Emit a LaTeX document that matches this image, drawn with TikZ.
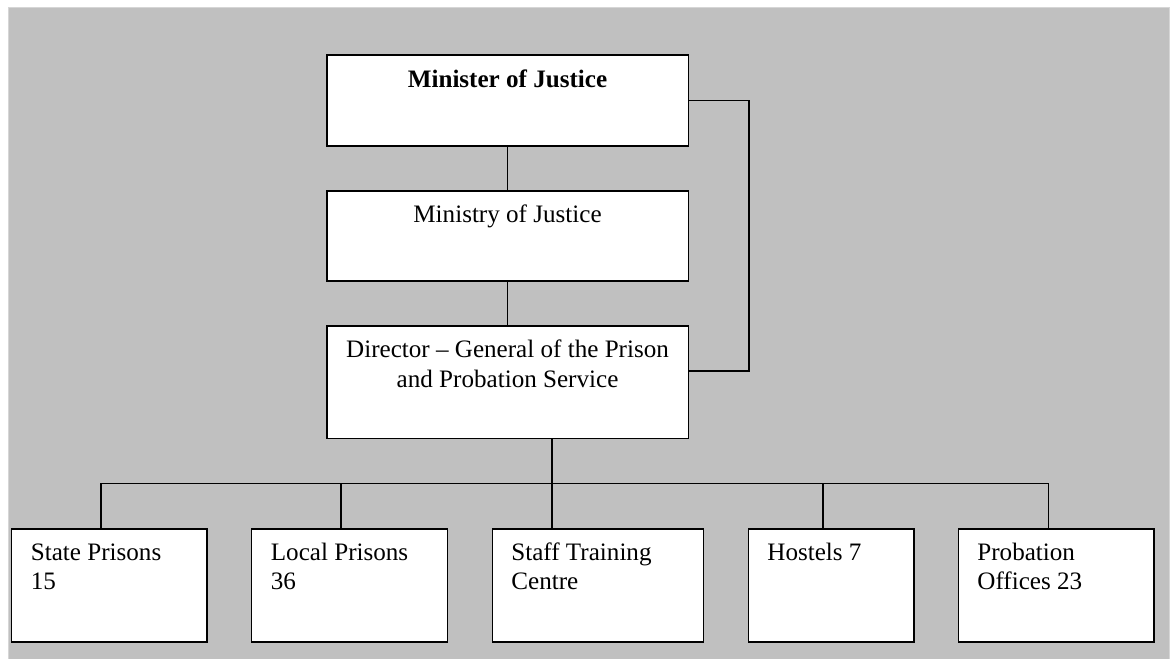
\documentclass[tikz,border=0pt]{standalone}
\usepackage{fontspec}
\setmainfont{Liberation Serif}
\usetikzlibrary{calc}
\definecolor{panelgray}{HTML}{C0C0C0}
\definecolor{panelrim}{HTML}{D6D6D6}
\begin{document}
\begin{tikzpicture}[x=1pt,y=-1pt,
  orgbox/.style={draw=black,line width=1.6pt,fill=white,rectangle,inner sep=0pt,anchor=north west},
  wire/.style={draw=black,line width=1.6pt},
  ctext/.style={anchor=north,inner sep=0pt,align=center,font=\fontsize{25.1}{30}\selectfont},
  ltext/.style={anchor=north west,inner sep=0pt,align=left,font=\fontsize{25.1}{29}\selectfont}]
  % canvas and grey panel
  \useasboundingbox (0,0) rectangle (1171,659);
  \fill[white] (0,0) rectangle (1171,659);
  \filldraw[fill=panelgray,draw=panelrim,line width=1pt] (8,7) rectangle (1169.5,670);

  % upper chain
  \node[orgbox,minimum width=361.5pt,minimum height=90.7pt] (minister) at (326,54.3) {};
  \node[orgbox,minimum width=361.5pt,minimum height=90pt] (ministry) at (326,190) {};
  \node[orgbox,minimum width=361.5pt,minimum height=112.7pt] (director) at (326,325) {};

  % lower row
  \node[orgbox,minimum width=195.3pt,minimum height=112.7pt] (state) at (10.7,528.3) {};
  \node[orgbox,minimum width=196pt,minimum height=112.7pt] (local) at (250.7,528.3) {};
  \node[orgbox,minimum width=211pt,minimum height=112.7pt] (staff) at (491.7,528.3) {};
  \node[orgbox,minimum width=165.6pt,minimum height=112.7pt] (hostels) at (747.7,528.3) {};
  \node[orgbox,minimum width=195.6pt,minimum height=112.7pt] (probation) at (957.7,528.3) {};

  % labels
  \node[ctext] (tminister) at ($(minister.north)+(0,13.4)$) {\rule{0pt}{20pt}\textbf{Minister of Justice}};
  \node[ctext] (tministry) at ($(ministry.north)+(0,12.7)$) {\rule{0pt}{20pt}Ministry of Justice};
  \node[ctext] (tdirector) at ($(director.north)+(0,12.7)$) {\rule{0pt}{20pt}Director – General of the Prison\\and Probation Service};
  \node[ltext] (tstate) at ($(state.north west)+(20,11.7)$) {\rule{0pt}{20pt}State Prisons\\15};
  \node[ltext] (tlocal) at ($(local.north west)+(20,11.7)$) {\rule{0pt}{20pt}Local Prisons\\36};
  \node[ltext] (tstaff) at ($(staff.north west)+(19.5,11.7)$) {\rule{0pt}{20pt}Staff Training\\Centre};
  \node[ltext] (thostels) at ($(hostels.north west)+(19.5,11.7)$) {\rule{0pt}{20pt}Hostels 7};
  \node[ltext] (tprobation) at ($(probation.north west)+(19.5,11.7)$) {\rule{0pt}{20pt}Probation\\Offices 23};

  % vertical chain and side rail
  \draw[wire] (minister.south) -- (ministry.north);
  \draw[wire] (ministry.south) -- (director.north);
  \coordinate (rail) at ($(minister.east)+(60,0)$);
  \draw[wire] (minister.east) -- (rail) |- ([yshift=11pt]director.east);

  % distribution bus to the lower row
  \coordinate (b1) at (100.7,483.3);
  \coordinate (b2) at (341,483.3);
  \coordinate (b3) at (552,483.3);
  \coordinate (b4) at (822.7,483.3);
  \coordinate (b5) at (1048.3,483.3);
  \draw[wire] (b3 |- director.south) -- (b3 |- staff.north);
  \draw[wire] (b1) -- (b5);
  \draw[wire] (b1) -- (b1 |- state.north);
  \draw[wire] (b2) -- (b2 |- local.north);
  \draw[wire] (b4) -- (b4 |- hostels.north);
  \draw[wire] (b5) -- (b5 |- probation.north);
\end{tikzpicture}
\end{document}
